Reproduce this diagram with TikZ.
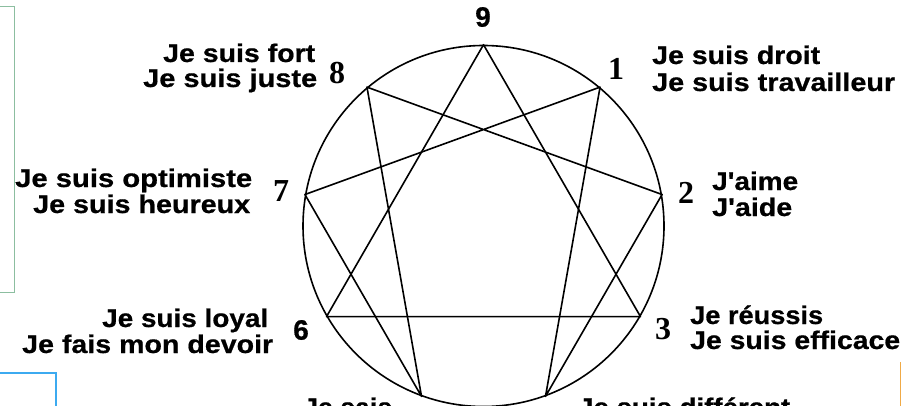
\documentclass[tikz,border=0pt]{standalone}
\usepackage{fontspec}
\usepackage{graphicx}
\newfontfamily\labfont{Liberation Sans}[BoldFeatures={FakeBold=0.6}]
\newfontfamily\numserif{Liberation Serif}
\definecolor{boxgreen}{RGB}{140,190,160}
\definecolor{boxblue}{RGB}{60,170,240}
\definecolor{markorange}{RGB}{240,170,70}
\newcommand{\fw}[2]{\resizebox{#1pt}{\height}{#2}}
\begin{document}
\begin{tikzpicture}[x=1pt,y=-1pt,
  lbl/.style={inner sep=0pt,font=\labfont\bfseries\fontsize{25.5}{25.5}\selectfont},
  numsans/.style={inner sep=0pt,font=\labfont\bfseries\fontsize{28}{28}\selectfont},
  numser/.style={inner sep=0pt,font=\numserif\bfseries\fontsize{32}{32}\selectfont},
  star/.style={line width=1.6pt,line join=round,line cap=round}]
\clip (0,0) rectangle (902,406);
\fill[white] (0,0) rectangle (902,406);
% side boxes
\draw[boxgreen,line width=1pt] (-5,7) rectangle (14,292);
\draw[boxblue,line width=1.2pt] (-5,373) rectangle (56,420);
\draw[markorange,line width=1pt] (900.5,362) -- (900.5,410);
% circle
\node[circle,draw,line width=1.6pt,minimum size=361pt,inner sep=0pt] (C) at (483.5,226) {};
% triangle 9-3-6
\draw[star] (C.90) -- (C.-30) -- (C.210) -- cycle;
% hexad 1-4-2-8-5-7-1
\draw[star] (C.50) -- (C.-70) -- (C.10) -- (C.130) -- (C.250) -- (C.170) -- cycle;
% numbers
\node[numsans] (n9) at (483,17) {9};
\node[numser] (n8) at (337,73) {8};
\node[numser] (n1) at (616,69) {1};
\node[numser] (n7) at (281,191) {7};
\node[numser] (n2) at (686,193) {2};
\node[numser] (n3) at (663,329) {3};
\node[numsans] (n6) at (301,330) {6};
% labels
\node[lbl,anchor=base west] (l8a) at (163,62) {\fw{152}{Je suis fort}};
\node[lbl,anchor=base west] (l8b) at (143,87) {\fw{174}{Je suis juste}};
\node[lbl,anchor=base west] (l1a) at (652,64) {\fw{168}{Je suis droit}};
\node[lbl,anchor=base west] (l1b) at (652,91) {\fw{243}{Je suis travailleur}};
\node[lbl,anchor=base west] (l7a) at (15,187) {\fw{237}{Je suis optimiste}};
\node[lbl,anchor=base west] (l7b) at (33,213) {\fw{217}{Je suis heureux}};
\node[lbl,anchor=base west] (l2a) at (712,190) {\fw{86}{J'aime}};
\node[lbl,anchor=base west] (l2b) at (712,216) {\fw{80}{J'aide}};
\node[lbl,anchor=base west] (l6a) at (102,327) {\fw{166}{Je suis loyal}};
\node[lbl,anchor=base west] (l6b) at (22,353) {\fw{251}{Je fais mon devoir}};
\node[lbl,anchor=base west] (l3a) at (690,324) {\fw{133}{Je réussis}};
\node[lbl,anchor=base west] (l3b) at (690,349) {\fw{210}{Je suis efficace}};
\node[lbl,anchor=base west] (l5) at (303,416) {\fw{89}{Je sais}};
\node[lbl,anchor=base west] (l4) at (578,416) {\fw{212}{Je suis différent}};
\end{tikzpicture}
\end{document}
